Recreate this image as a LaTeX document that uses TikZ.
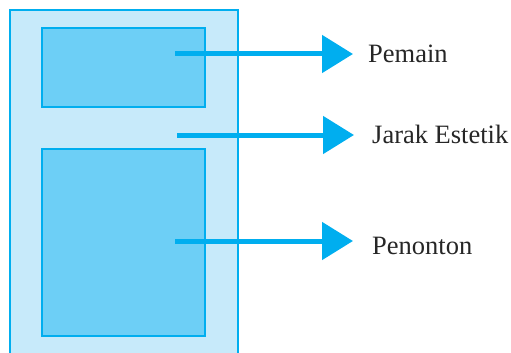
\documentclass[tikz,border=0pt]{standalone}
\usepackage{fontspec}
\setmainfont{Liberation Serif}
\usetikzlibrary{arrows.meta}
\definecolor{cyanline}{HTML}{00AEEF}
\definecolor{cyanpale}{HTML}{C7EAFA}
\definecolor{cyanmid}{HTML}{6DCFF6}
\tikzset{
  area/.style={draw=cyanline, line width=2pt, inner sep=0pt},
  lbl/.style={anchor=base west, inner sep=0pt, font=\fontsize{26.5}{30}\selectfont, text=black!85},
  pointer/.style={draw=cyanline, line width=5pt, -{Triangle[length=31pt,width=37pt]}},
}
\begin{document}
\begin{tikzpicture}[x=1pt,y=-1pt]
        \useasboundingbox (0,0) rectangle (511,353);
        \clip (0,0) rectangle (511,353);
        \node (hall) [area, fill=cyanpale, minimum width=228pt, minimum height=350pt] at (124,185) {};
        \node (stage) [area, fill=cyanmid, minimum width=163pt, minimum height=79pt] at (123.5,67.5) {};
        \node (seats) [area, fill=cyanmid, minimum width=163pt, minimum height=187pt] at (123.5,242) {};
        \coordinate (s1) at (175,54);
        \coordinate (s2) at (177,135);
        \coordinate (s3) at (175,241);
        \node (pemain) [lbl] at (368,63) {Pemain};
        \node (jarak) [lbl] at (372,143.5) {Jarak Estetik};
        \node (penonton) [lbl] at (372,254) {Penonton};
        \draw [pointer, shorten >=15pt] (s1) -- (s1 -| pemain.west);
        \draw [pointer, shorten >=18pt] (s2) -- (s2 -| jarak.west);
        \draw [pointer, shorten >=19pt] (s3) -- (s3 -| penonton.west);
\end{tikzpicture}
\end{document}
